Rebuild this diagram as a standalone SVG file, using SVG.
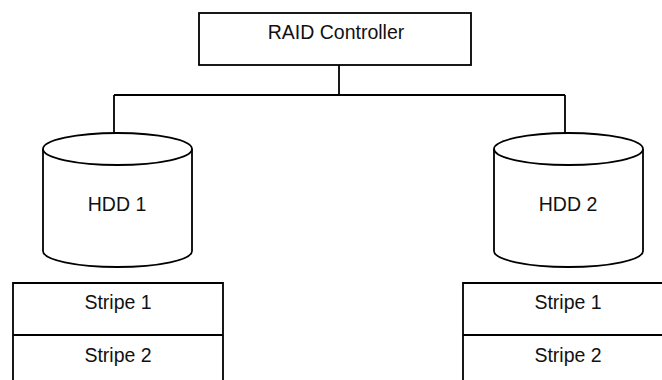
<svg xmlns="http://www.w3.org/2000/svg" width="662" height="380" viewBox="0 0 662 380">
<style>
.s{fill:#fff;stroke:#000;stroke-width:1.8}
.l{fill:none;stroke:#000;stroke-width:1.8}
.t{font-family:"Liberation Sans",Arial,sans-serif;font-size:19.5px;fill:#111;text-anchor:middle}
</style>
<rect width="662" height="380" fill="#fff"/>
<g id="connectors">
<path class="l" d="M339 65V95M114 95H565M114 95V134M565 95V134"/>
</g>
<g id="raid">
<rect class="s" x="199" y="13" width="272" height="52"/>
<text class="t" x="336" y="39">RAID Controller</text>
</g>
<g id="hdd1">
<path class="s" d="M43 149V251A74.5 16 0 0 0 192 251V149"/>
<ellipse class="s" cx="117.5" cy="149" rx="74.5" ry="16"/>
<text class="t" x="117" y="211">HDD 1</text>
</g>
<g id="hdd2">
<path class="s" d="M494 149V251A74.5 16 0 0 0 643 251V149"/>
<ellipse class="s" cx="568.5" cy="149" rx="74.5" ry="16"/>
<text class="t" x="568" y="211">HDD 2</text>
</g>
<g id="stripes1">
<path class="l" d="M13 381V283H223V381M13 335H223"/>
<text class="t" x="118" y="309">Stripe 1</text>
<text class="t" x="118" y="362">Stripe 2</text>
</g>
<g id="stripes2">
<path class="l" d="M463 381V283H673M463 335H673"/>
<text class="t" x="568" y="309">Stripe 1</text>
<text class="t" x="568" y="362">Stripe 2</text>
</g>
</svg>
